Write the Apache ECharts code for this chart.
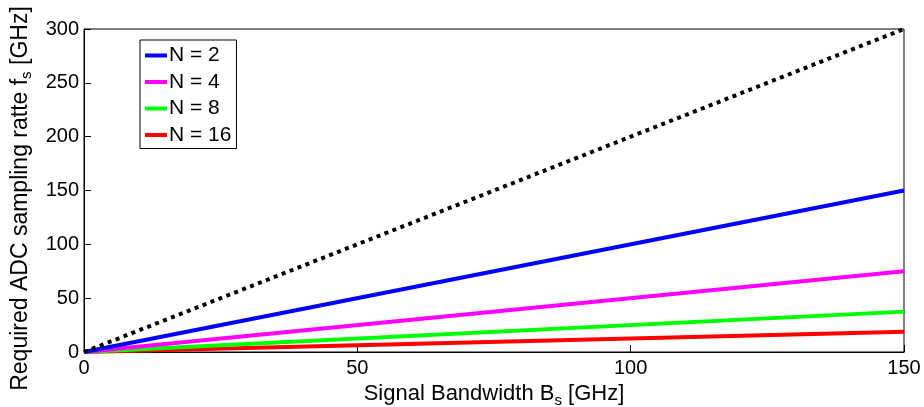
<!DOCTYPE html>
<html>
<head>
<meta charset="utf-8">
<script src="https://cdn.jsdelivr.net/npm/echarts@6/dist/echarts.min.js"></script>
<style>
  html, body { margin: 0; padding: 0; background: #fff; }
  #chart { width: 924px; height: 407px; }
</style>
</head>
<body>
<div id="chart"></div>
<script>
// signal bandwidth endpoints [GHz]
var bandwidth = [0, 150];
var nyquist = [0, 300];
var rateN2 = [0, 150];
var rateN4 = [0, 75];
var rateN8 = [0, 37.5];
var rateN16 = [0, 18.75];
var seriesNames = ["N = 2", "N = 4", "N = 8", "N = 16"];
var seriesColors = ["#0000ff", "#ff00ff", "#00ff00", "#ff0000"];
var xTicks = [0, 50, 100, 150];
var yTicks = [0, 50, 100, 150, 200, 250, 300];

var font = "Liberation Sans, Arial, sans-serif";

function pairs(ys) {
  return bandwidth.map(function (x, i) { return [x, ys[i]]; });
}

var myChart = echarts.init(document.getElementById("chart"));

var lines = [rateN2, rateN4, rateN8, rateN16].map(function (ys, i) {
  return {
    name: seriesNames[i],
    type: "line",
    data: pairs(ys),
    showSymbol: false,
    lineStyle: { color: seriesColors[i], width: 4 },
    itemStyle: { color: seriesColors[i] },
    z: 5 - i,
  };
});

lines.push({
  name: "nyquist",
  type: "line",
  data: pairs(nyquist),
  showSymbol: false,
  lineStyle: { color: "#000", width: 4, type: [4, 4.5] },
  z: 6,
});

myChart.setOption({
  animation: false,
  grid: {
    left: 84,
    right: 20,
    top: 29,
    bottom: 55,
    outerBoundsMode: "none",
    containLabel: false,
    show: true,
    borderColor: "#000",
    borderWidth: 1,
  },
  legend: {
    data: seriesNames,
    orient: "vertical",
    left: 140,
    top: 40,
    icon: "rect",
    itemWidth: 22,
    itemHeight: 4,
    itemGap: 5.5,
    padding: [5, 5, 3, 5],
    borderColor: "#000",
    borderWidth: 1,
    backgroundColor: "#fff",
    textStyle: { fontFamily: font, fontSize: 21, lineHeight: 20, color: "#000", padding: [0, 0, 0, -3] },
  },
  xAxis: {
    type: "value",
    min: 0,
    max: 150,
    interval: 50,
    splitLine: { show: false },
    axisLine: { show: true, lineStyle: { color: "#000" } },
    axisTick: { show: true, inside: true, length: 7, lineStyle: { color: "#000" } },
    axisLabel: {
      fontFamily: font,
      fontSize: 20,
      color: "#000",
      margin: 6,
      formatter: function (v) { return xTicks.indexOf(v) >= 0 ? String(v) : ""; },
    },
    name: "Signal Bandwidth B{s|s} [GHz]",
    nameLocation: "middle",
    nameGap: 26,
    nameTextStyle: {
      fontFamily: font,
      fontSize: 22,
      color: "#000",
      rich: { s: { fontFamily: font, fontSize: 15, color: "#000", padding: [14, 0, 0, 0] } },
    },
  },
  yAxis: {
    type: "value",
    min: 0,
    max: 300,
    interval: 50,
    splitLine: { show: false },
    axisLine: { show: true, lineStyle: { color: "#000" } },
    axisTick: { show: true, inside: true, length: 7, lineStyle: { color: "#000" } },
    axisLabel: {
      fontFamily: font,
      fontSize: 20,
      color: "#000",
      margin: 5,
      formatter: function (v) { return yTicks.indexOf(v) >= 0 ? String(v) : ""; },
    },
    name: "Required ADC sampling ratte f{s|s} [GHz]",
    nameLocation: "middle",
    nameGap: 39,
    nameTextStyle: {
      fontFamily: font,
      fontSize: 23,
      color: "#000",
      padding: [0, 16, 0, 0],
      rich: { s: { fontFamily: font, fontSize: 15, color: "#000", padding: [14, 0, 0, 0] } },
    },
  },
  series: lines,
});
</script>
</body>
</html>
